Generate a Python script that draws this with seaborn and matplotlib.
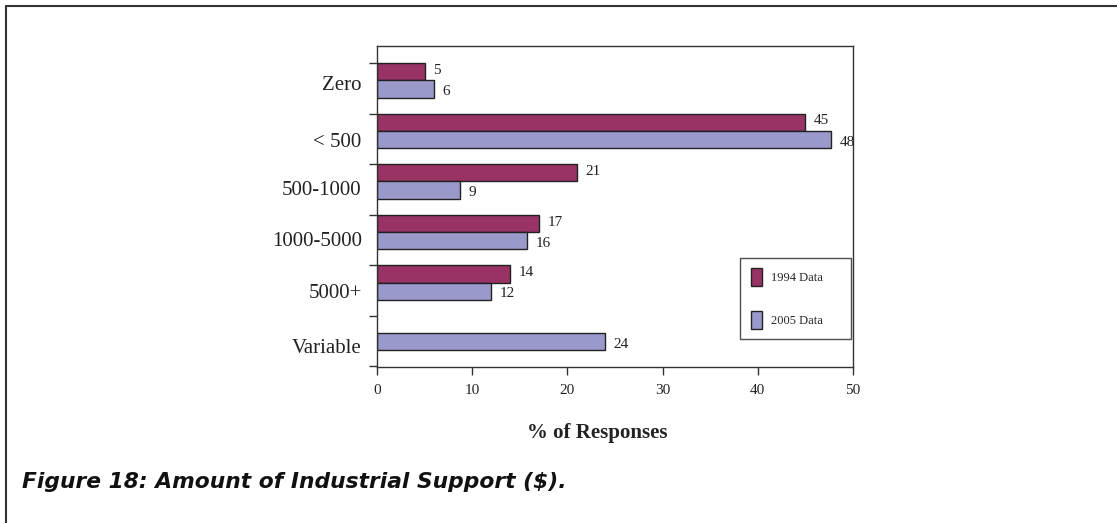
import pandas as pd
import matplotlib.pyplot as plt
from matplotlib.lines import Line2D
import seaborn as sns
import numpy as np

categories = ['Zero', '< 500', '500-1000', '1000-5000', '5000+', 'Variable']
data_1994 = [5, 45, 21, 17, 14, np.nan]
data_2005 = [6, 47.7, 8.7, 15.8, 12, 24]
labels_1994 = ['5', '45', '21', '17', '14']
labels_2005 = ['6', '48', '9', '16', '12', '24']
series = ['1994 Data', '2005 Data']
colors = ['#993366', '#9999CC']
x_ticks = [0, 10, 20, 30, 40, 50]

df = pd.DataFrame({
    'category': categories * 2,
    'value': data_1994 + data_2005,
    'series': [series[0]] * len(categories) + [series[1]] * len(categories),
}).dropna()

sns.set_style('ticks')
plt.rcParams['font.family'] = ['Liberation Serif', 'DejaVu Serif']

fig = plt.figure(figsize=(11.17, 5.23), dpi=100)
ax = fig.add_axes([377 / 1117, 1 - 367 / 523, 476 / 1117, 321 / 523])

sns.barplot(data=df, y='category', x='value', hue='series', order=categories,
            hue_order=series, palette=colors, orient='h', width=0.68,
            edgecolor='#222222', linewidth=1.0, saturation=1, ax=ax)

# value labels
for cont, labs, dy in zip(ax.containers, [labels_1994, labels_2005], [1, -2]):
    texts = ax.bar_label(cont, labels=labs, padding=6, fontsize=11, color='#222222')
    for t in texts:
        t.xyann = (6, dy)

ax.set_xlim(0, 50)
ax.set_ylim(5.67, -0.68)
ax.set_xticks(x_ticks)
ax.tick_params(axis='x', labelsize=11, direction='out', length=6, width=1,
               color='#333333', pad=6, labelcolor='#222222')

# category labels sit a little below the group centres, ticks at group edges
ax.set_yticks([0.06, 1.17, 2.13, 3.13, 4.17, 5.26])
ax.set_yticklabels(categories)
ax.tick_params(axis='y', which='major', length=0, labelsize=15, pad=11,
               labelcolor='#222222')
ax.set_yticks([k - 0.34 for k in range(len(categories) + 1)], minor=True)
ax.tick_params(axis='y', which='minor', length=6, width=1, color='#333333',
               direction='out')

ax.set_ylabel('')
ax.set_xlabel('% of Responses', fontsize=15, fontweight='bold', labelpad=19,
              color='#222222')
ax.xaxis.label.set_x((597 - 377) / 476)

for s in ax.spines.values():
    s.set_visible(True)
    s.set_color('#333333')
    s.set_linewidth(1)

leg = ax.legend(loc='upper left', bbox_to_anchor=((740 - 377) / 476, 0.33, 111 / 476, 0.01),
                mode='expand', borderaxespad=0, fontsize=9, handlelength=0.9,
                handleheight=1.8, labelspacing=2.0, frameon=True, fancybox=False,
                borderpad=0.85, handletextpad=0.7)
leg.get_frame().set_edgecolor('#222222')
leg.get_frame().set_linewidth(1)
for h in leg.legend_handles:
    h.set_edgecolor('#222222')

# caption and page frame
fig.text(22 / 1117, 1 - 482 / 523, 'Figure 18: Amount of Industrial Support ($).',
         fontsize=15.7, fontweight='bold', fontstyle='italic', va='center',
         family=['DejaVu Sans'], color='#111111')
fig.add_artist(Line2D([6 / 1117, 6 / 1117], [0, 1 - 6 / 523], color='#333333',
                      lw=1.5, transform=fig.transFigure))
fig.add_artist(Line2D([6 / 1117, 1], [1 - 6 / 523, 1 - 6 / 523], color='#333333',
                      lw=1.5, transform=fig.transFigure))

fig.savefig('out.png', dpi=100)
